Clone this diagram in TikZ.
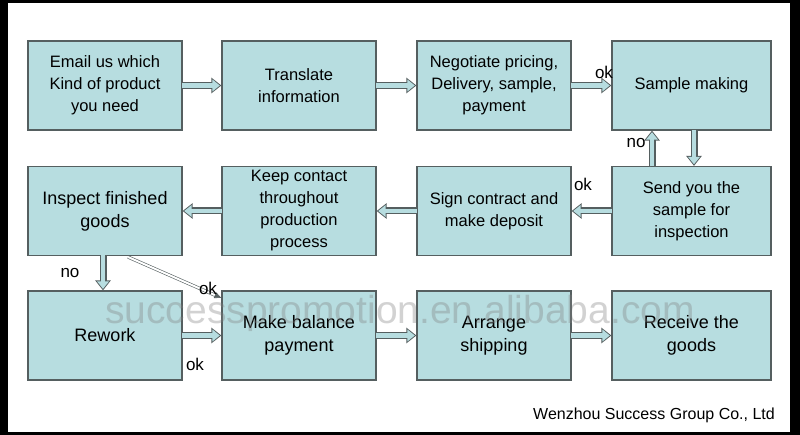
\documentclass[tikz,border=0pt]{standalone}
\usepackage{fontspec}
\setmainfont{Liberation Sans}
\usetikzlibrary{arrows.meta}
\definecolor{bfill}{HTML}{B7DDE0}
\definecolor{bline}{HTML}{555F60}
\tikzset{
 box/.style={draw=bline,line width=1.2pt,fill=bfill,minimum width=154pt,minimum height=89pt,align=center,font=\fontsize{16.5}{22}\selectfont,inner sep=1pt},
 lbl/.style={font=\fontsize{17}{18}\selectfont},
}
\newcommand{\barrow}[2]{%
 \draw[line width=7pt,draw=bline,-{Triangle[length=10pt,width=15pt]}] (#1) -- (#2);
 \draw[line width=4.6pt,draw=bfill,shorten >=1.6pt,shorten <=-0.6pt,-{Triangle[length=7.4pt,width=11.4pt]}] (#1) -- (#2);}
\begin{document}
\begin{tikzpicture}[x=1pt,y=-1pt]
\fill[black] (0,0) rectangle (800,435);
\fill[white] (8,3) rectangle (790,432);
\useasboundingbox (0,0) rectangle (800,435);
\node[box] (a1) at (105,85.5) {Email us which\\Kind of product\\you need};
\node[box] (a2) at (299,85.5) {Translate\\information};
\node[box] (a3) at (494,85.5) {Negotiate pricing,\\Delivery, sample,\\payment};
\node[box,minimum width=159pt] (a4) at (691.5,85.5) {Sample making};
\node[box,font=\fontsize{18}{23}\selectfont] (b1) at (105,211) {Inspect finished\\goods};
\node[box] (b2) at (299,211) {Keep contact\\throughout\\production\\process};
\node[box] (b3) at (494,211) {Sign contract and\\make deposit};
\node[box,minimum width=159pt] (b4) at (691.5,211) {Send you the\\sample for\\inspection};
\node[box,font=\fontsize{18}{23}\selectfont] (c1) at (105,335.5) {Rework};
\node[box,font=\fontsize{18}{23}\selectfont] (c2) at (299,335.5) {Make balance\\payment};
\node[box,font=\fontsize{18}{23}\selectfont] (c3) at (494,335.5) {Arrange\\shipping};
\node[box,minimum width=159pt,font=\fontsize{18}{23}\selectfont] (c4) at (691.5,335.5) {Receive the\\goods};
\barrow{a1.east}{a2.west}
\barrow{a2.east}{a3.west}
\barrow{a3.east}{a4.west}
\barrow{a4.south-|694,0}{b4.north-|694,0}
\barrow{b4.north-|652,0}{a4.south-|652,0}
\barrow{b4.west}{b3.east}
\barrow{b3.west}{b2.east}
\barrow{b2.west}{b1.east}
\barrow{b1.south-|103,0}{c1.north-|103,0}
\barrow{c1.east}{c2.west}
\barrow{c2.east}{c3.west}
\barrow{c3.east}{c4.west}
\coordinate (d1) at (128,257);
\draw[double=white,draw=bline,double distance=2pt,line width=0.6pt,-{Triangle[length=7pt,width=6pt]}] (d1) -- (c2.north west|-0,298) ;
\node[lbl] (l1) at (604,72) {ok};
\node[lbl] (l2) at (636,143) {no};
\node[lbl] (l3) at (583,184) {ok};
\node[lbl] (l4) at (70,273) {no};
\node[lbl] (l5) at (208,288) {ok};
\node[lbl] (l6) at (195,364) {ok};
\node[font=\fontsize{16}{18}\selectfont] (ft) at (654,415) {Wenzhou Success Group Co., Ltd};
\node[text=gray,opacity=0.35,font=\fontsize{39}{40}\selectfont] (wm) at (400,313) {successpromotion.en.alibaba.com};
\end{tikzpicture}
\end{document}
